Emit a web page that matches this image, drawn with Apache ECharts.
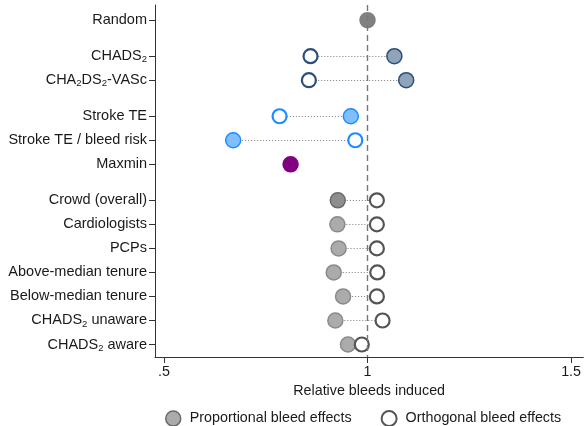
<!DOCTYPE html>
<html>
<head>
<meta charset="utf-8">
<script src="https://cdn.jsdelivr.net/npm/echarts@6/dist/echarts.min.js"></script>
<style>
  html, body { margin: 0; padding: 0; background: #fff; }
  #chart { width: 584px; height: 426px; }
</style>
</head>
<body>
<div id="chart"></div>
<script>
// Rule labels (rich-text markup gives the subscript 2s)
const rowLabels = [
  'Random',
  'CHADS{s|2}',
  'CHA{s|2}DS{s|2}-VASc',
  'Stroke TE',
  'Stroke TE / bleed risk',
  'Maxmin',
  'Crowd (overall)',
  'Cardiologists',
  'PCPs',
  'Above-median tenure',
  'Below-median tenure',
  'CHADS{s|2} unaware',
  'CHADS{s|2} aware'
];

// Relative bleeds induced
const proportional = [1.000, 1.066, 1.095, 0.959, 0.670, 0.811, 0.927, 0.926, 0.929, 0.917, 0.940, 0.921, 0.952];
const orthogonal   = [null,  0.860, 0.856, 0.784, 0.970, null,  1.023, 1.023, 1.023, 1.024, 1.023, 1.037, 0.986];

const xTicks = [0.5, 1, 1.5];
const xTickLabels = ['.5', '1', '1.5'];

// Layout: vertical slot of each row (blank half-rows separate the groups)
const rowPos = [0, 1.5, 2.5, 4, 5, 6, 7.5, 8.5, 9.5, 10.5, 11.5, 12.5, 13.5];

// Marker colours per row group
const NAVY = '#2a4f7a', NAVY_FILL = '#8fa3b9';
const BLUE = '#1e8cff', BLUE_FILL = '#7fbeff';
const rowFill   = ['#808080', NAVY_FILL, NAVY_FILL, BLUE_FILL, BLUE_FILL, '#800080',
                   '#8e8e8e', '#ababab', '#ababab', '#ababab', '#ababab', '#ababab', '#ababab'];
const rowBorder = ['#808080', NAVY, NAVY, BLUE, BLUE, '#800080',
                   '#6a6a6a', '#8a8a8a', '#8a8a8a', '#8a8a8a', '#8a8a8a', '#8a8a8a', '#8a8a8a'];
const rowHollow = [null, NAVY, NAVY, BLUE, BLUE, null,
                   '#555555', '#555555', '#555555', '#555555', '#555555', '#555555', '#555555'];

const FONT = '"Liberation Sans", Arial, Helvetica, sans-serif';
const TXT = '#1a1a1a';

const labelByPos = {};
rowPos.forEach((p, i) => { labelByPos[p] = rowLabels[i]; });

const connectors = [];
proportional.forEach((v, i) => {
  if (orthogonal[i] != null) {
    connectors.push({ coords: [[v, rowPos[i]], [orthogonal[i], rowPos[i]]] });
  }
});

const propData = proportional.map((v, i) => ({
  value: [v, rowPos[i]],
  itemStyle: { color: rowFill[i], borderColor: rowBorder[i] }
}));
const orthData = [];
orthogonal.forEach((v, i) => {
  if (v != null) {
    orthData.push({ value: [v, rowPos[i]], itemStyle: { color: '#ffffff', borderColor: rowHollow[i] } });
  }
});

const chart = echarts.init(document.getElementById('chart'), null, { renderer: 'canvas' });
chart.setOption({
  animation: false,
  backgroundColor: '#ffffff',
  textStyle: { fontFamily: FONT },
  grid: { left: 155, right: 0, top: 5, bottom: 69, containLabel: false },
  xAxis: {
    type: 'value',
    position: 'bottom',
    min: 0.478,
    max: 1.53,
    name: 'Relative bleeds induced',
    nameLocation: 'middle',
    nameGap: 26,
    nameTextStyle: { fontSize: 14.3, color: TXT, fontFamily: FONT },
    axisLine: { show: true, onZero: false, lineStyle: { color: '#333', width: 1 } },
    axisTick: { show: true, customValues: xTicks, length: 6, lineStyle: { color: '#333' } },
    axisLabel: {
      customValues: xTicks,
      margin: 8,
      fontSize: 14.3,
      color: TXT,
      fontFamily: FONT,
      formatter: v => xTickLabels[xTicks.indexOf(v)]
    },
    splitLine: { show: false }
  },
  yAxis: {
    type: 'value',
    position: 'left',
    inverse: true,
    min: -0.63,
    max: 14.02,
    axisLine: { show: true, onZero: false, lineStyle: { color: '#333', width: 1 } },
    axisTick: { show: true, customValues: rowPos, length: 6, lineStyle: { color: '#333' } },
    axisLabel: {
      customValues: rowPos,
      margin: 8,
      fontSize: 14.5,
      lineHeight: 17,
      color: TXT,
      fontFamily: FONT,
      formatter: v => labelByPos[v] || '',
      rich: {
        s: { fontSize: 9.5, lineHeight: 10, padding: [7, 0, 0, 0], color: TXT, fontFamily: FONT }
      }
    },
    splitLine: { show: false }
  },
  legend: {
    top: 410,
    left: 165,
    itemGap: 29,
    itemWidth: 23,
    itemHeight: 15,
    padding: 0,
    textStyle: { fontSize: 14.3, color: TXT, fontFamily: FONT },
    data: [
      { name: 'Proportional bleed effects', icon: 'circle',
        itemStyle: { color: '#ababab', borderColor: '#6a6a6a', borderWidth: 1.5 } },
      { name: 'Orthogonal bleed effects', icon: 'circle',
        itemStyle: { color: '#ffffff', borderColor: '#555555', borderWidth: 2 } }
    ]
  },
  series: [
    {
      type: 'lines',
      coordinateSystem: 'cartesian2d',
      silent: true,
      z: 1,
      lineStyle: { color: '#7a7a7a', width: 1.2, type: [1, 2], opacity: 1 },
      data: connectors,
      markLine: {
        silent: true,
        symbol: 'none',
        label: { show: false },
        lineStyle: { color: '#777777', width: 1.4, type: [6, 4] },
        data: [{ xAxis: 1 }]
      }
    },
    {
      name: 'Proportional bleed effects',
      type: 'scatter',
      z: 3,
      symbol: 'circle',
      symbolSize: 15,
      itemStyle: { color: '#ababab', borderColor: '#6a6a6a', borderWidth: 1.5, opacity: 1 },
      data: propData
    },
    {
      name: 'Orthogonal bleed effects',
      type: 'scatter',
      z: 4,
      symbol: 'circle',
      symbolSize: 14,
      itemStyle: { color: '#ffffff', borderColor: '#555555', borderWidth: 2.2, opacity: 1 },
      data: orthData
    }
  ]
});
</script>
</body>
</html>
